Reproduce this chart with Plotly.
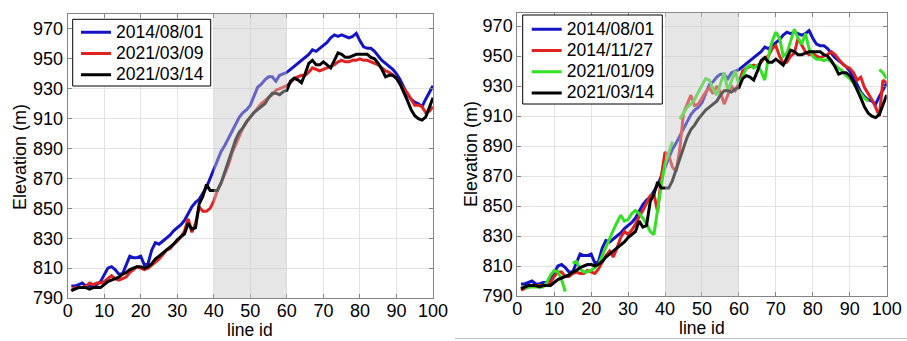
import plotly.graph_objects as go

# Profile position along the transect
line_id = list(range(1, 101))

# Elevation profiles (m)
elev_20140801 = [798, 798, 799, 800, 798, 798, 799, 799, 801, 806,
                 810, 811, 809, 806, 806, 812, 818, 817, 817, 818,
                 812, 813, 822, 827, 826, 828, 830, 832, 835, 837,
                 839, 842, 847, 851, 854, 856, 860, 864, 870, 876,
                 883, 888, 892, 897, 902, 907, 911, 914, 916, 919,
                 925, 931, 933, 936, 938, 938, 935, 939, 940, 941,
                 943, 945, 947, 949, 951, 953, 956, 955, 957, 959,
                 961, 964, 966, 965, 966, 965, 964, 965, 967, 962,
                 958, 957, 957, 955, 952, 949, 947, 945, 943, 940,
                 936, 931, 926, 923, 921, 920, 918, 923, 928, 932]

elev_20210309 = [795, 797, 797, 797, 798, 800, 799, 800, 800, 801,
                 803, 805, 803, 802, 803, 804, 807, 809, 811, 810,
                 809, 810, 812, 814, 816, 819, 822, 823, 826, 828,
                 831, 835, 843, 834, 840, 851, 848, 848, 850, 855,
                 862, 867, 873, 879, 887, 893, 899, 904, 908, 911,
                 914, 917, 920, 922, 924, 926, 929, 930, 931, 932,
                 934, 937, 938, 939, 939, 941, 944, 943, 942, 943,
                 944, 945, 946, 948, 949, 948, 948, 949, 949, 950,
                 949, 949, 948, 947, 946, 944, 942, 941, 939, 937,
                 933, 930, 927, 923, 919, 919, 918, 914, 915, 918]

elev_20210314 = [795, 796, 797, 797, 797, 796, 797, 797, 797, 799,
                 801, 802, 803, 804, 806, 807, 809, 810, 811, 811,
                 810, 811, 813, 816, 818, 820, 822, 824, 826, 829,
                 831, 833, 840, 836, 837, 853, 858, 866, 862, 862,
                 862, 867, 874, 882, 888, 896, 901, 904, 908, 911,
                 914, 916, 918, 920, 924, 927, 927, 926, 928, 929,
                 935, 937, 936, 934, 940, 947, 949, 946, 946, 948,
                 946, 944, 949, 954, 953, 951, 951, 952, 953, 953,
                 953, 953, 951, 950, 947, 943, 938, 939, 939, 937,
                 933, 928, 922, 916, 912, 910, 909, 911, 917, 924]

elev_20141127 = [794, 795, 796, 797, 797, 797, 797, 797, 799, 803,
                 806, 806, 803, 803, 805, 806, 805, 805, 807, 806,
                 805, 808, 813, 817, 820, 816, 822, 829, 833, 831,
                 834, 838, 843, 847, 852, 857, 858, 846, 870, 886,
                 884, 876, 873, 888, 912, 918, 924, 917, 918, 922,
                 926, 929, 925, 930, 926, 918, 924, 930, 927, 932,
                 940, 942, 943, 944, 943, 946, 949, 950, 955, 957,
                 950, 945, 946, 950, 952, 962, 957, 953, 951, 952,
                 950, 949, 950, 951, 953, 951, 948, 945, 943, 942,
                 939, 934, 936, 929, 925, 921, 916, 910, 934, 932]

elev_20210109 = [None, 795, 796, 796, 796, 796, 796, 799, 804, 807,
                 806, 801, 793, None, 812, 813, 808, 806, 806, 807,
                 809, 811, 817, 823, 829, 834, 839, 844, 840, 841,
                 845, 847, 845, 842, 838, 833, 831, 848, 864, 878,
                 886, 893, None, 908, 912, 916, 918, 921, 926, 931,
                 935, 934, 928, 924, 932, 939, 927, 934, 940, 931,
                 936, 942, 944, 942, 944, 940, 934, 950, 960, 966,
                 962, 950, 952, 960, 968, 962, 958, 965, 955, 950,
                 948, 948, 947, 948, 946, 944, 942, 940, 937, 935,
                 932, 928, 925, 922, 920, None, None, 941, 939, 935]

BLUE = "#1414c4"
RED = "#e02222"
GREEN = "#33e022"
BLACK = "#000000"
FONT = "Liberation Sans, Arial, sans-serif"
W, H = 907, 341


def legend_label(text):
    # Larger glyphs than the legend's base size, keeping rows compact
    return '<span style="font-size:17.5px">%s</span>' % text


fig = go.Figure()

left_series = [("2014/08/01", elev_20140801, BLUE),
               ("2021/03/09", elev_20210309, RED),
               ("2021/03/14", elev_20210314, BLACK)]
right_series = [("2014/08/01", elev_20140801, BLUE),
                ("2014/11/27", elev_20141127, RED),
                ("2021/01/09", elev_20210109, GREEN),
                ("2021/03/14", elev_20210314, BLACK)]

for name, vals, col in left_series:
    fig.add_trace(go.Scatter(x=line_id, y=vals, name=legend_label(name), mode="lines",
                             line=dict(color=col, width=3),
                             xaxis="x", yaxis="y", legend="legend"))
for name, vals, col in right_series:
    fig.add_trace(go.Scatter(x=line_id, y=vals, name=legend_label(name), mode="lines",
                             line=dict(color=col, width=3),
                             xaxis="x2", yaxis="y2", legend="legend2"))

axis_common = dict(
    automargin=False,
    showline=True, linecolor="#858585", linewidth=1, mirror="ticks",
    ticks="inside", ticklen=4, tickcolor="#858585",
    showgrid=True, gridcolor="#e3e3e3", gridwidth=1, zeroline=False,
    tickfont=dict(family=FONT, size=18, color="black"),
)

xt = list(range(0, 101, 10))
yt = list(range(790, 971, 20))

legend_common = dict(xanchor="left", yanchor="top",
                     bgcolor="rgba(0,0,0,0)", borderwidth=0,
                     font=dict(family=FONT, size=14, color="black"),
                     tracegroupgap=0, itemwidth=30)

fig.update_layout(
    template="none",
    width=W, height=H,
    margin=dict(l=0, r=0, t=0, b=0),
    paper_bgcolor="white", plot_bgcolor="white",
    font=dict(family=FONT, size=18, color="black"),
    xaxis=dict(domain=[0.0746, 0.4774], range=[0, 100], tickvals=xt,
               ticklabelstandoff=-4, anchor="y", **axis_common),
    yaxis=dict(domain=[0.126, 0.959], range=[790, 980], tickvals=yt,
               anchor="x", **axis_common),
    xaxis2=dict(domain=[0.5703, 0.9776], range=[0, 100], tickvals=xt,
                ticklabelstandoff=-4, anchor="y2", **axis_common),
    yaxis2=dict(domain=[0.132, 0.9628], range=[790, 979], tickvals=yt,
                anchor="x2", **axis_common),
    legend=dict(x=76 / W, y=1 - 16.7 / H, **legend_common),
    legend2=dict(x=526.7 / W, y=1 - 13.7 / H, **legend_common),
    showlegend=True,
)

# Legend frames (white boxes with black outline)
for x0, x1, y0, y1 in ((72.7, 210.7, 19.3, 86.0), (522.7, 662.3, 15.0, 104.0)):
    fig.add_shape(type="rect", xref="paper", yref="paper",
                  x0=x0 / W, x1=x1 / W, y0=1 - y1 / H, y1=1 - y0 / H,
                  fillcolor="white", line=dict(color="black", width=1),
                  layer="above")

# Axis titles
# x titles: bottom of the text box given in pixels
for xp, ybot in ((250, 341), (702, 339)):
    fig.add_annotation(text="line id", xref="paper", yref="paper",
                       x=xp / W, y=1 - ybot / H,
                       xanchor="center", yanchor="bottom", borderpad=0,
                       showarrow=False,
                       font=dict(family=FONT, size=17.5, color="black"))
# y titles: centre of the rotated text in pixels
for xp, yp in ((20, 157), (471, 154)):
    fig.add_annotation(text="Elevation (m)", xref="paper", yref="paper",
                       x=xp / W, y=1 - yp / H,
                       xanchor="center", yanchor="middle",
                       textangle=-90, showarrow=False,
                       font=dict(family=FONT, size=18, color="black"))

# Shaded band over line ids 40-60, laid over the profiles
for xr, yr in (("x", "y domain"), ("x2", "y2 domain")):
    fig.add_shape(type="rect", xref=xr, yref=yr, x0=40, x1=60, y0=0, y1=1,
                  fillcolor="rgba(200,200,200,0.45)", line=dict(width=0),
                  layer="above")

# Thin rule along the bottom of the right panel
fig.add_shape(type="line", xref="paper", yref="paper",
              x0=455 / W, x1=1, y0=1 - 338.5 / H, y1=1 - 338.5 / H,
              line=dict(color="#c4c4c4", width=1))

fig.write_html("out.html")
